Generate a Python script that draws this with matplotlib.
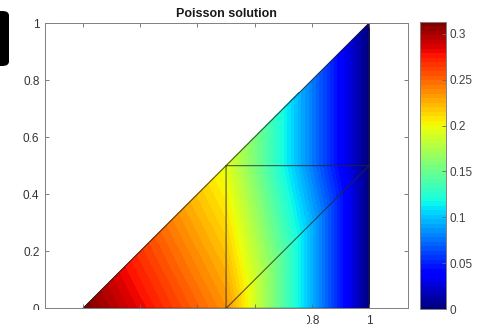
import numpy as np
import matplotlib
matplotlib.use('Agg')
import matplotlib.pyplot as plt
import matplotlib.tri as mtri
from matplotlib.patches import Rectangle, FancyBboxPatch

# mesh nodes and nodal solution values
node_x = [0.0, 0.5, 1.0, 0.5, 1.0, 1.0]
node_y = [0.0, 0.0, 0.0, 0.5, 0.5, 1.0]
node_u = [0.313, 0.235, 0.0, 0.195, 0.0, 0.0]
elements = [[0, 1, 3], [1, 4, 3], [1, 2, 4], [3, 4, 5]]

tick_vals = [0, 0.2, 0.4, 0.6, 0.8, 1]
tick_text = ['0', '0.2', '0.4', '0.6', '0.8', '1']
cbar_vals = [0, 0.05, 0.1, 0.15, 0.2, 0.25, 0.3]
cbar_text = ['0', '0.05', '0.1', '0.15', '0.2', '0.25', '0.3']

plt.rcParams['font.family'] = ['Liberation Sans', 'DejaVu Sans']
W, H = 480, 327
fig = plt.figure(figsize=(W / 100, H / 100), dpi=100)

ax = fig.add_axes([45 / W, (H - 308.3) / H, 363 / W, 285.3 / H])
cax = fig.add_axes([419.5 / W, (H - 309) / H, 26 / W, 287 / H])

tri = mtri.Triangulation(node_x, node_y, elements)
umax = max(node_u)
cmap = plt.get_cmap('jet', 64)
levels = np.linspace(0, umax, 65)
ax.tricontourf(tri, node_u, levels=levels, cmap=cmap, vmin=0, vmax=umax)
ax.triplot(tri, color='0.15', lw=0.8, alpha=0.75)

ax.set_xlim(-0.133, 1.136)
ax.set_ylim(0, 1)
ax.set_xticks(tick_vals)
ax.set_xticklabels(tick_text)
ax.set_yticks(tick_vals)
ax.set_yticklabels(tick_text)
ax.tick_params(direction='in', length=3, width=0.6, top=True, right=True,
               labelsize=8.5, colors='0.4', labelcolor='0.2', pad=4)
ax.tick_params(axis='x', pad=5)
for s in ax.spines.values():
    s.set_color('0.5')
    s.set_linewidth(0.7)
ax.set_title('Poisson solution', fontsize=9, fontweight='bold', pad=4, color='0.1')

sm = plt.cm.ScalarMappable(cmap=cmap, norm=plt.Normalize(0, umax))
cb = fig.colorbar(sm, cax=cax)
cb.set_ticks(cbar_vals)
cb.set_ticklabels(cbar_text)
cax.tick_params(direction='in', length=3, width=0.6, labelsize=8.5,
                colors='0.4', labelcolor='0.25', pad=3)
cb.outline.set_edgecolor('0.5')
cb.outline.set_linewidth(0.7)

# blank strip along the bottom edge and dark tab at the top left
fig.patches.append(Rectangle((0, 0), 307 / W, 17 / H, transform=fig.transFigure,
                             facecolor='white', edgecolor='none', zorder=10))
fig.patches.append(FancyBboxPatch((-14 / W, (H - 66) / H), 23 / W, 55 / H,
                                  boxstyle='round,pad=0,rounding_size=0.014',
                                  transform=fig.transFigure, facecolor='black',
                                  edgecolor='none', zorder=10))

fig.savefig('out.png', dpi=100)
